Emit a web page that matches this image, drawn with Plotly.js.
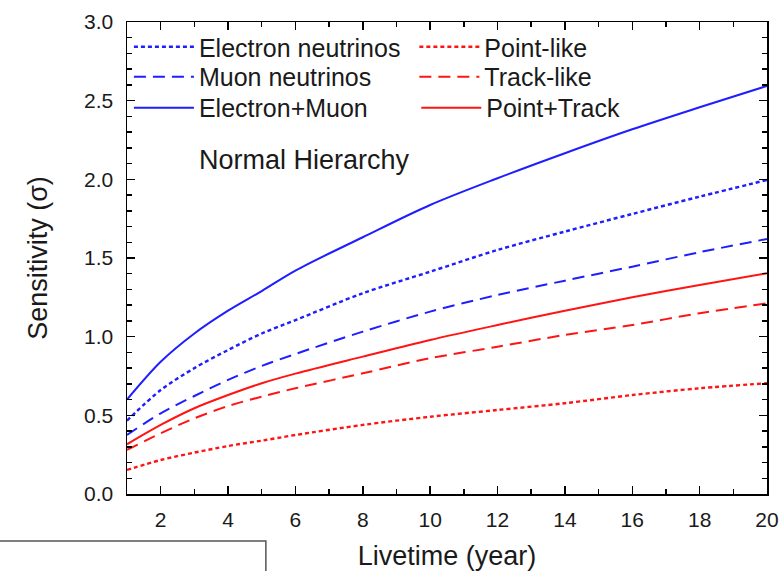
<!DOCTYPE html>
<html>
<head>
<meta charset="utf-8">
<script src="https://cdn.plot.ly/plotly-3.0.1.min.js"></script>
<style>html,body{margin:0;padding:0;background:#fff;}#chart{width:784px;height:571px;}</style>
</head>
<body>
<div id="chart"></div>
<script>
const years = [1, 2, 3, 4, 5, 6, 8, 10, 12, 14, 16, 18, 20];
const electronNu = [0.466, 0.661, 0.80, 0.915, 1.02, 1.105, 1.276, 1.413, 1.551, 1.668, 1.78, 1.89, 1.996];
const muonNu = [0.375, 0.513, 0.623, 0.725, 0.814, 0.89, 1.032, 1.159, 1.265, 1.356, 1.445, 1.537, 1.621];
const electronMuon = [0.60, 0.84, 1.02, 1.165, 1.29, 1.42, 1.632, 1.837, 2.007, 2.166, 2.318, 2.458, 2.594];
const pointLike = [0.153, 0.216, 0.263, 0.305, 0.339, 0.375, 0.439, 0.491, 0.534, 0.577, 0.629, 0.672, 0.704];
const trackLike = [0.28, 0.386, 0.481, 0.559, 0.619, 0.672, 0.767, 0.863, 0.936, 1.011, 1.074, 1.149, 1.212];
const pointTrack = [0.316, 0.439, 0.545, 0.629, 0.704, 0.765, 0.873, 0.979, 1.074, 1.165, 1.25, 1.329, 1.403];

const BLUE = 'rgb(30,30,255)';
const RED = 'rgb(255,20,20)';
const DOT = '4px,3px';
const DASH = '12px,7px';
const FONT = 'Liberation Sans, Arial, sans-serif';
const TXT = '#1a1a1a';

function tr(name, y, color, dash, width, legend) {
  return {x: years, y: y, name: name, type: 'scatter', mode: 'lines',
    line: {color: color, width: width, dash: dash, shape: 'spline', smoothing: 0.9},
    legend: legend, hoverinfo: 'skip'};
}
const data = [
  tr('Electron neutrinos', electronNu, BLUE, DOT, 2.4, 'legend'),
  tr('Muon neutrinos', muonNu, BLUE, DASH, 2, 'legend2'),
  tr('Electron+Muon', electronMuon, BLUE, 'solid', 2, 'legend3'),
  tr('Point-like', pointLike, RED, DOT, 2.4, 'legend4'),
  tr('Track-like', trackLike, RED, DASH, 2, 'legend5'),
  tr('Point+Track', pointTrack, RED, 'solid', 2, 'legend6')
];

const axisCommon = {
  showgrid: false, zeroline: false, showline: true, linecolor: '#000', linewidth: 1.5,
  mirror: 'ticks', ticks: 'inside', ticklen: 8, tickwidth: 1.5, tickcolor: '#000',
  tickfont: {family: FONT, size: 21, color: TXT}
};

function leg(x, y) {
  return {x: x, y: y, xanchor: 'left', yanchor: 'middle', bgcolor: 'rgba(0,0,0,0)',
    font: {family: FONT, size: 25, color: TXT}, itemwidth: 60};
}

const layout = {
  width: 784, height: 571,
  margin: {l: 127, r: 17, t: 22, b: 77},
  paper_bgcolor: '#fff', plot_bgcolor: '#fff',
  font: {family: FONT, color: TXT},
  showlegend: true,
  xaxis: Object.assign({}, axisCommon, {
    range: [1, 20], tick0: 0, dtick: 2, ticklabelstandoff: 6,
    minor: {dtick: 1, tick0: 1, ticks: 'inside', ticklen: 5, tickwidth: 1.5, tickcolor: '#000'},
    title: {text: 'Livetime (year)', font: {family: FONT, size: 27, color: TXT}, standoff: 18}
  }),
  yaxis: Object.assign({}, axisCommon, {
    range: [0, 3], tick0: 0, dtick: 0.5, tickformat: '.1f', ticklabelstandoff: 8,
    minor: {dtick: 0.1, tick0: 0, ticks: 'inside', ticklen: 5, tickwidth: 1.5, tickcolor: '#000'},
    title: {text: 'Sensitivity (σ)', font: {family: FONT, size: 27, color: TXT}, standoff: 28}
  }),
  legend: leg(0.003, 0.947),
  legend2: leg(0.003, 0.8835),
  legend3: leg(0.003, 0.8178),
  legend4: leg(0.449, 0.947),
  legend5: leg(0.449, 0.8835),
  legend6: leg(0.452, 0.8178),
  annotations: [{
    text: 'Normal Hierarchy', xref: 'paper', yref: 'paper', x: 0.2766, y: 0.7076,
    xanchor: 'center', yanchor: 'middle', showarrow: false,
    font: {family: FONT, size: 27, color: TXT}
  }],
  shapes: [{
    type: 'rect', xref: 'paper', yref: 'paper', x0: -0.25, x1: 0.217, y0: -0.3, y1: -0.0996,
    line: {color: '#555', width: 1.5}, fillcolor: 'rgba(0,0,0,0)', layer: 'above'
  }]
};

Plotly.newPlot('chart', data, layout, {staticPlot: true, displayModeBar: false});
</script>
</body>
</html>
